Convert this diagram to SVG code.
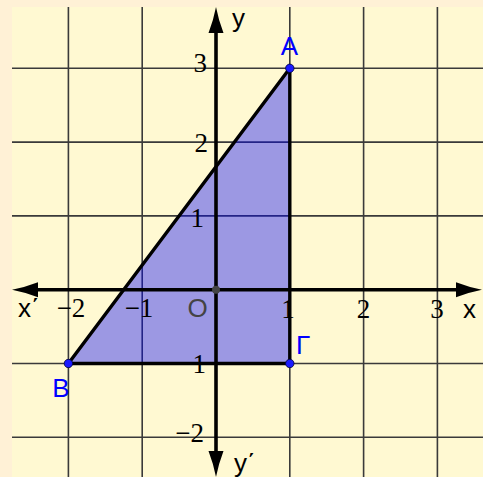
<svg xmlns="http://www.w3.org/2000/svg" xmlns:xlink="http://www.w3.org/1999/xlink" width="483" height="477" viewBox="0 0 483 477">
<style>
.grid{stroke:#3a3a3a;stroke-width:1.6;fill:none}
.axis{stroke:#000;stroke-width:3.6;fill:none}
.edge{stroke:#000;stroke-width:3.4;fill:none;stroke-linecap:round}
.tick{font-family:"Liberation Serif","DejaVu Serif",serif;font-size:27px;fill:#000}
.lab{font-family:"Liberation Sans","DejaVu Sans",sans-serif;font-size:26px}
.ax{fill:#000}
.pt{fill:#0000ff}
.pl{fill:#1a1aff;stroke:#000033;stroke-width:0.8}
</style>
<defs>
<path id="arr" d="M0,0 Q13,-2.5 26,-7.5 L26,7.5 Q13,2.5 0,0 Z" fill="#000"/>
</defs>
<rect x="0" y="0" width="483" height="477" fill="#fff1d6"/>
<rect x="12" y="7" width="471" height="470" fill="#fff9d2"/>
<g id="grid">
<path class="grid" d="M68.4,7V477M142.2,7V477M289.8,7V477M363.6,7V477M437.4,7V477M12,68.3H483M12,142.1H483M12,215.9H483M12,363.5H483M12,437.3H483"/>
</g>
<polygon id="triangle-fill" points="289.8,68.3 68.4,363.5 289.8,363.5" fill="#0000ff" fill-opacity="0.39"/>
<g id="axes">
<line class="axis" x1="36" y1="289.7" x2="458" y2="289.7"/>
<line class="axis" x1="216" y1="31" x2="216" y2="453"/>
<use xlink:href="#arr" transform="translate(12,289.7)"/>
<use xlink:href="#arr" transform="translate(482,289.7) rotate(180)"/>
<use xlink:href="#arr" transform="translate(216,7) rotate(90)"/>
<use xlink:href="#arr" transform="translate(216,477) rotate(-90)"/>
</g>
<g id="connectors">
<line class="edge" x1="289.8" y1="68.3" x2="68.4" y2="363.5"/>
<line class="edge" x1="68.4" y1="363.5" x2="289.8" y2="363.5"/>
<line class="edge" x1="289.8" y1="363.5" x2="289.8" y2="68.3"/>
</g>
<g id="ticks">
<text class="tick" x="207" y="72" text-anchor="end">3</text>
<text class="tick" x="208" y="152" text-anchor="end">2</text>
<text class="tick" x="204" y="227" text-anchor="end">1</text>
<text class="tick" x="206" y="373" text-anchor="end">−1</text>
<text class="tick" x="204" y="442" text-anchor="end">−2</text>
<text class="tick" x="71" y="317" text-anchor="middle">−2</text>
<text class="tick" x="139" y="317" text-anchor="middle">−1</text>
<text class="tick" x="288" y="318" text-anchor="middle">1</text>
<text class="tick" x="363.6" y="318" text-anchor="middle">2</text>
<text class="tick" x="437" y="318" text-anchor="middle">3</text>
</g>
<g id="axis-labels">
<text class="lab ax" x="463" y="318">x</text>
<text class="lab ax" x="18" y="317">x΄</text>
<text class="lab ax" x="232" y="27">y</text>
<text class="lab ax" x="234" y="472">y΄</text>
</g>
<g id="point-O">
<circle cx="216" cy="289.7" r="4" fill="#444"/>
<text class="lab" x="197.5" y="317" text-anchor="middle" fill="#444">O</text>
</g>
<g id="point-A">
<circle class="pl" cx="289.8" cy="68.3" r="4.2"/>
<text class="lab pt" x="289.5" y="55" text-anchor="middle">A</text>
</g>
<g id="point-B">
<circle class="pl" cx="68.4" cy="363.5" r="4.2"/>
<text class="lab pt" x="61" y="396.5" text-anchor="middle">B</text>
</g>
<g id="point-G">
<circle class="pl" cx="289.8" cy="363.5" r="4.2"/>
<text class="lab pt" x="296" y="354">Γ</text>
</g>
</svg>
